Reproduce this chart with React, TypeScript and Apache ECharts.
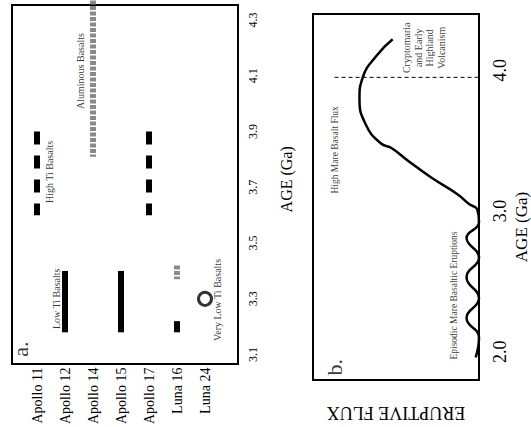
import React, { useEffect, useRef } from "react";
import * as echarts from "echarts";

// ---------- Panel a data ----------
const categories = ["Apollo 11", "Apollo 12", "Apollo 14", "Apollo 15", "Apollo 17", "Luna 16", "Luna 24"];
const ageTicksA = [3.1, 3.3, 3.5, 3.7, 3.9, 4.1, 4.3];
// [site, from age, to age]
const highTiBasalts: [string, number, number][] = [
  ["Apollo 11", 3.6, 3.9],
  ["Apollo 17", 3.6, 3.9],
];
const lowTiBasalts: [string, number, number][] = [
  ["Apollo 12", 3.18, 3.4],
  ["Apollo 15", 3.18, 3.4],
  ["Luna 16", 3.18, 3.22],
];
const aluminousBasalts: [string, number, number][] = [
  ["Apollo 14", 3.81, 4.37],
  ["Luna 16", 3.37, 3.42],
];
const veryLowTiBasalts: [string, number][] = [["Luna 24", 3.3]];
// [text, site position, age, font size]
const labelsA: [string, number, number, number][] = [
  ["Aluminous Basalts", 1.57, 4.117, 10],
  ["High Ti Basalts", 0.46, 3.755, 10],
  ["Low Ti Basalts", 0.71, 3.3, 10],
  ["Very Low Ti Basalts", 6.46, 3.296, 10],
  ["a.", -0.6, 3.12, 22],
];

// ---------- Panel b data ----------
const ageTicksB = [2.0, 3.0, 4.0];
const fluxAges = [4.22, 4.1, 3.95, 3.8, 3.61, 3.48, 3.45, 3.36, 3.24, 3.12, 3.05, 3.01, 2.92, 2.81, 2.67, 2.53, 2.38, 2.24, 2.1, 1.96];
const fluxValues = [0.52, 0.62, 0.7, 0.72, 0.68, 0.59, 0.53, 0.43, 0.29, 0.13, 0.06, 0.01, 0.0, 0.075, 0.0, 0.075, 0.0, 0.075, 0.0, 0.02];
const dividerAge = 3.95;
const dividerFlux = [0.87, 0];
const labelsB: [string, number, number, number][] = [
  ["High Mare Basalt Flux", 0.87, 3.435, 9.5],
  ["Cryptomaria\nand Early\nHighland\nVolcanism", 0.33, 4.16, 10],
  ["Episodic Mare Basaltic Eruptions", 0.153, 2.4, 9.5],
  ["b.", 0.87, 1.89, 22],
];

const fontFamily = '"Liberation Serif", "Times New Roman", serif';

function rangeSeries(list: [string, number, number][], style: any) {
  return list.map(([site, a, b]) => ({
    type: "line",
    xAxisIndex: 1,
    yAxisIndex: 1,
    symbol: "none",
    clip: false,
    silent: true,
    lineStyle: style,
    data: [
      [categories.indexOf(site), b],
      [categories.indexOf(site), a],
    ],
  }));
}

function labelSeries(list: [string, number, number, number][], xi: number, yi: number) {
  return list.map(([text, x, y, size]) => ({
    type: "scatter",
    xAxisIndex: xi,
    yAxisIndex: yi,
    symbolSize: 0,
    silent: true,
    clip: false,
    data: [{ value: [x, y], name: text }],
    label: {
      show: true,
      position: "inside",
      rotate: 90,
      formatter: "{b}",
      fontSize: size,
      fontFamily,
      color: "#000",
      align: "center",
      verticalAlign: "middle",
      lineHeight: size * 1.15,
    },
  }));
}

export default function App() {
  const ref = useRef<HTMLDivElement>(null);
  useEffect(() => {
    document.body.style.margin = "0";
    const chart = echarts.init(ref.current!, null, { renderer: "svg" });
    const hidden = { show: false };
    const option: any = {
      animation: false,
      backgroundColor: "#fff",
      textStyle: { fontFamily, color: "#000" },
      grid: [
        { left: 12, top: 5, width: 226, height: 359, show: true, borderColor: "#000", borderWidth: 2, backgroundColor: "transparent" },
        { left: 9, top: 20, width: 224, height: 335 },
        { left: 313, top: 14, width: 170, height: 372, show: true, borderColor: "#000", borderWidth: 2, backgroundColor: "transparent" },
      ],
      xAxis: [
        { gridIndex: 0, type: "value", show: false, min: 0, max: 1 },
        {
          gridIndex: 1,
          type: "value",
          min: -1,
          max: 7,
          interval: 1,
          axisLine: hidden,
          axisTick: hidden,
          splitLine: hidden,
          axisLabel: {
            rotate: 90,
            margin: 13,
            fontSize: 14,
            color: "#000",
            fontFamily,
            formatter: (v: number) => categories[Math.round(v)] ?? "",
          },
        },
        {
          gridIndex: 2,
          type: "value",
          inverse: true,
          min: 0,
          max: 1,
          axisLine: hidden,
          axisTick: hidden,
          splitLine: hidden,
          axisLabel: hidden,
          name: "ERUPTIVE FLUX",
          nameLocation: "middle",
          nameRotate: 180,
          nameGap: 24,
          nameTextStyle: { fontSize: 18, fontFamily, color: "#000" },
        },
      ],
      yAxis: [
        { gridIndex: 0, type: "value", show: false, min: 0, max: 1 },
        {
          gridIndex: 1,
          type: "value",
          position: "right",
          min: 3.1,
          max: 4.3,
          interval: 0.1,
          axisLine: hidden,
          axisTick: hidden,
          splitLine: hidden,
          axisLabel: {
            rotate: 90,
            margin: 14,
            fontSize: 12,
            color: "#000",
            fontFamily,
            formatter: (v: number) => {
              const r = Math.round(v * 10) / 10;
              return ageTicksA.includes(r) ? r.toFixed(1) : "";
            },
          },
          name: "AGE (Ga)",
          nameLocation: "middle",
          nameRotate: 90,
          nameGap: 45,
          nameTextStyle: { fontSize: 16, fontFamily, color: "#000", padding: [0, 0, 0, 16] },
        },
        {
          gridIndex: 2,
          type: "value",
          position: "right",
          min: 1.8,
          max: 4.4,
          interval: 0.1,
          axisLine: hidden,
          axisTick: hidden,
          splitLine: hidden,
          axisLabel: {
            rotate: 90,
            margin: 12,
            fontSize: 18,
            color: "#000",
            fontFamily,
            formatter: (v: number) => {
              const r = Math.round(v * 10) / 10;
              return ageTicksB.includes(r) ? r.toFixed(1) : "";
            },
          },
          name: "AGE (Ga)",
          nameLocation: "middle",
          nameRotate: 90,
          nameGap: 34,
          nameTextStyle: { fontSize: 17, fontFamily, color: "#000", padding: [0, 60, 0, 0] },
        },
      ],
      series: [
        ...rangeSeries(aluminousBasalts, { color: "#8a8a8a", width: 6, type: [4, 1.5] }),
        ...rangeSeries(highTiBasalts, { color: "#000", width: 6, type: [13, 11] }),
        ...rangeSeries(lowTiBasalts, { color: "#000", width: 6, type: "solid" }),
        {
          type: "scatter",
          xAxisIndex: 1,
          yAxisIndex: 1,
          symbol: "circle",
          symbolSize: 13,
          silent: true,
          itemStyle: { color: "#fff", borderColor: "#000", borderWidth: 3 },
          data: veryLowTiBasalts.map(([site, age]) => [categories.indexOf(site), age]),
        },
        ...labelSeries(labelsA, 1, 1),
        {
          type: "line",
          xAxisIndex: 2,
          yAxisIndex: 2,
          symbol: "none",
          silent: true,
          lineStyle: { color: "#000", width: 1, type: [4, 3] },
          data: dividerFlux.map((f) => [f, dividerAge]),
        },
        {
          type: "line",
          xAxisIndex: 2,
          yAxisIndex: 2,
          symbol: "none",
          smooth: 0.5,
          clip: false,
          silent: true,
          lineStyle: { color: "#000", width: 2.5 },
          data: fluxAges.map((a, i) => [fluxValues[i], a]),
        },
        ...labelSeries(labelsB, 2, 2),
      ],
    };
    chart.setOption(option);
    return () => chart.dispose();
  }, []);
  return <div ref={ref} style={{ width: 531, height: 427 }} />;
}
